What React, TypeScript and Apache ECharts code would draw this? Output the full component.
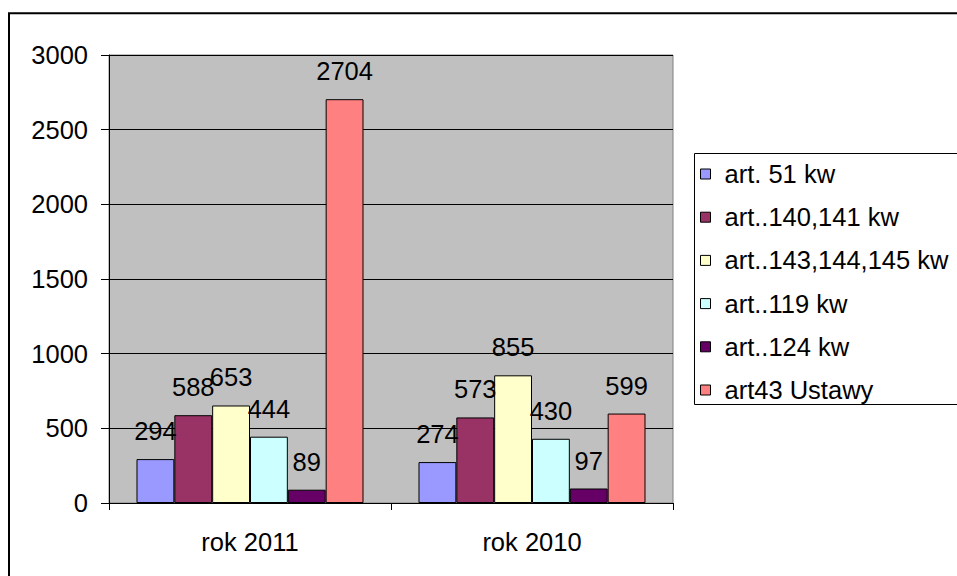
import React, { useEffect, useRef } from "react";
import * as echarts from "echarts";

const categories = ["rok 2011", "rok 2010"];
const seriesNames = [
  "art. 51 kw",
  "art..140,141 kw",
  "art..143,144,145 kw",
  "art..119 kw",
  "art..124 kw",
  "art43 Ustawy",
];
const art51 = [294, 274];
const art140 = [588, 573];
const art143 = [653, 855];
const art119 = [444, 430];
const art124 = [89, 97];
const art43 = [2704, 599];
const seriesValues = [art51, art140, art143, art119, art124, art43];
const colors = ["#9999FF", "#993366", "#FFFFCC", "#CCFFFF", "#660066", "#FF8080"];
const yTicks = { min: 0, max: 3000, interval: 500 };

const FONT = "'Liberation Sans', Arial, sans-serif";
const FS = 25.5;

export default function App() {
  const ref = useRef<HTMLDivElement>(null);
  useEffect(() => {
    document.body.style.margin = "0";
    if (!ref.current) return;
    const chart = echarts.init(ref.current, undefined, { renderer: "svg" });
    chart.setOption({
      animation: false,
      backgroundColor: "#FFFFFF",
      textStyle: { fontFamily: FONT },
      grid: {
        left: 109,
        right: 284,
        top: 55,
        bottom: 73,
        show: true,
        backgroundColor: "#C0C0C0",
        borderColor: "#808080",
        borderWidth: 1,
      },
      legend: {
        orient: "vertical",
        left: 700,
        top: 161,
        padding: 0,
        itemGap: 17.2,
        itemWidth: 10,
        itemHeight: 10,
        icon: "rect",
        data: seriesNames,
        textStyle: {
          fontFamily: FONT,
          fontSize: FS,
          color: "#000",
          lineHeight: FS,
          padding: [0, 0, 0, 9],
        },
        itemStyle: { borderColor: "#000", borderWidth: 1 },
      },
      xAxis: {
        type: "category",
        data: categories,
        axisLine: { show: true, lineStyle: { color: "#000", width: 1 } },
        axisTick: { show: true, length: 7, lineStyle: { color: "#000" } },
        axisLabel: { fontFamily: FONT, fontSize: FS, color: "#000", margin: 26 },
        splitLine: { show: false },
      },
      yAxis: {
        type: "value",
        min: yTicks.min,
        max: yTicks.max,
        interval: yTicks.interval,
        axisLine: { show: true, lineStyle: { color: "#000", width: 1 } },
        axisTick: { show: true, length: 8, lineStyle: { color: "#000" } },
        axisLabel: {
          fontFamily: FONT,
          fontSize: FS,
          color: "#000",
          margin: 21,
          formatter: (v: number) => String(v),
        },
        splitLine: { show: true, lineStyle: { color: "#000", width: 1 } },
      },
      series: seriesNames.map((name, i) => ({
        name,
        type: "bar",
        data: seriesValues[i],
        barGap: "0%",
        barCategoryGap: "19.5%",
        itemStyle: { color: colors[i], borderColor: "#000", borderWidth: 1 },
        label: {
          show: true,
          position: "top",
          distance: 15,
          fontFamily: FONT,
          fontSize: FS,
          color: "#000",
        },
      })),
      graphic: [
        {
          type: "rect",
          shape: { x: 694.5, y: 153.5, width: 320, height: 251 },
          style: { fill: "none", stroke: "#000", lineWidth: 1 },
          z: 100,
        },
        {
          type: "rect",
          shape: { x: 9, y: 13.3, width: 1000, height: 620 },
          style: { fill: "none", stroke: "#000", lineWidth: 2 },
          z: 100,
        },
      ],
    });
    return () => chart.dispose();
  }, []);
  return (
    <div
      ref={ref}
      style={{ position: "absolute", left: 0, top: 0, width: 957, height: 576 }}
    />
  );
}
